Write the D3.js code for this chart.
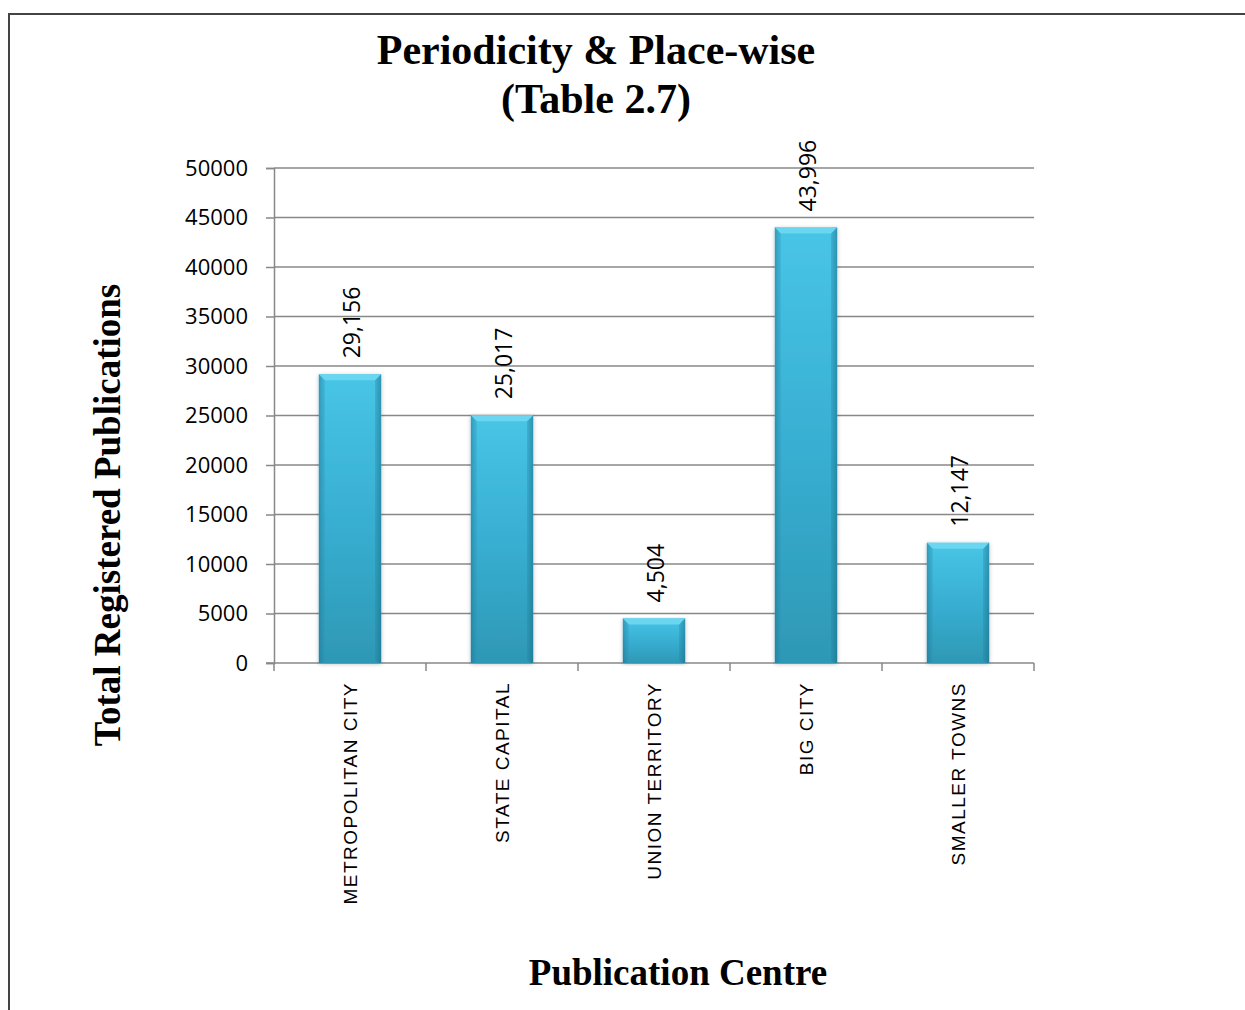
<!DOCTYPE html>
<html><head><meta charset="utf-8">
<script src="https://cdn.jsdelivr.net/npm/d3@7/dist/d3.min.js"></script>
<style>body{margin:0;background:#fff}svg{display:block}</style>
</head><body>
<svg id="c" width="1245" height="1010"></svg>
<script>
const categories = ["METROPOLITAN CITY","STATE CAPITAL","UNION TERRITORY","BIG CITY","SMALLER TOWNS"];
const values = [29156, 25017, 4504, 43996, 12147];
const yTicks = [0,5000,10000,15000,20000,25000,30000,35000,40000,45000,50000];
const titleLines = ["Periodicity & Place-wise","(Table 2.7)"];
const yTitle = "Total Registered Publications";
const xTitle = "Publication Centre";

const svg = d3.select("#c");
const L = 274, R = 1034, T = 168, B = 663;
const x = d3.scaleBand().domain(categories).range([L, R]).paddingInner(0.59).paddingOuter(0.295);
const y = d3.scaleLinear().domain([0, 50000]).range([B, T]);

const defs = svg.append("defs");
const g1 = defs.append("linearGradient").attr("id","bv").attr("x1",0).attr("y1",0).attr("x2",0).attr("y2",1);
g1.append("stop").attr("offset","0%").attr("stop-color","#48c5e6");
g1.append("stop").attr("offset","50%").attr("stop-color","#38afd2");
g1.append("stop").attr("offset","100%").attr("stop-color","#2e98b5");
const g2 = defs.append("linearGradient").attr("id","bh").attr("x1",0).attr("y1",0).attr("x2",1).attr("y2",0);
g2.append("stop").attr("offset","0%").attr("stop-color","#0c4c60").attr("stop-opacity",0.3);
g2.append("stop").attr("offset","8%").attr("stop-color","#0c4c60").attr("stop-opacity",0);
g2.append("stop").attr("offset","92%").attr("stop-color","#0c4c60").attr("stop-opacity",0);
g2.append("stop").attr("offset","100%").attr("stop-color","#0c4c60").attr("stop-opacity",0.3);
const f = defs.append("filter").attr("id","sh").attr("x","-20%").attr("y","-5%").attr("width","140%").attr("height","110%");
f.append("feGaussianBlur").attr("in","SourceAlpha").attr("stdDeviation",2);
f.append("feOffset").attr("dx",0).attr("dy",1).attr("result","b");
f.append("feComponentTransfer").append("feFuncA").attr("type","linear").attr("slope",0.25);
const fm = f.append("feMerge"); fm.append("feMergeNode"); fm.append("feMergeNode").attr("in","SourceGraphic");

// border
svg.append("path").attr("d","M9,1010 V14 H1245").attr("fill","none").attr("stroke","#444").attr("stroke-width",2);

// gridlines
svg.append("g").selectAll("line").data(yTicks.filter(d=>d>0)).join("line")
  .attr("x1",L).attr("x2",R).attr("y1",d=>y(d)).attr("y2",d=>y(d))
  .attr("stroke","#888").attr("stroke-width",1.5);

// y axis
const ya = svg.append("g").attr("transform",`translate(${L},0)`)
  .call(d3.axisLeft(y).tickValues(yTicks).tickFormat(d3.format("d")).tickSize(8).tickPadding(18));
ya.select(".domain").attr("stroke","#888").attr("stroke-width",1.5);
ya.selectAll(".tick line").attr("stroke","#888").attr("stroke-width",1.5);
ya.selectAll("text").attr("font-family","'Open Sans'").attr("font-size",22).attr("fill","#000");

// x axis
const step = x.step();
const bounds = d3.range(categories.length+1).map(i => L + i*step);
svg.append("line").attr("x1",L-8).attr("x2",R).attr("y1",B).attr("y2",B).attr("stroke","#888").attr("stroke-width",1.5);
svg.append("g").selectAll("line").data(bounds).join("line")
  .attr("x1",d=>d).attr("x2",d=>d).attr("y1",B).attr("y2",B+8).attr("stroke","#888").attr("stroke-width",1.5);

// bars
const bars = svg.append("g").selectAll("g").data(categories.map((c,i)=>({c, v: values[i]}))).join("g")
  .attr("filter","url(#sh)");
const bw = x.bandwidth();
bars.append("rect").attr("x",d=>x(d.c)).attr("y",d=>y(d.v)).attr("width",bw).attr("height",d=>B-y(d.v)).attr("fill","url(#bv)");
bars.append("rect").attr("x",d=>x(d.c)).attr("y",d=>y(d.v)).attr("width",bw).attr("height",d=>B-y(d.v)).attr("fill","url(#bh)");
const bev = 6;
bars.append("path").attr("d",d=>{const x0=x(d.c), x1=x0+bw, t=y(d.v);
  return `M${x0},${t} H${x1} L${x1-bev},${t+bev} H${x0+bev} Z`;}).attr("fill","#6ad6f0");
bars.append("path").attr("d",d=>{const x0=x(d.c), x1=x0+bw, t=y(d.v);
  return `M${x0},${t} L${x0+bev},${t+bev} V${B-2} L${x0},${B} Z`;}).attr("fill","#2a8fae").attr("opacity",0.3);
bars.append("path").attr("d",d=>{const x0=x(d.c), x1=x0+bw, t=y(d.v);
  return `M${x1},${t} L${x1-bev},${t+bev} V${B-2} L${x1},${B} Z`;}).attr("fill","#1f7f9c").attr("opacity",0.35);

// data labels
const fmt = d3.format(",");
svg.append("g").selectAll("text").data(categories.map((c,i)=>({c, v: values[i]}))).join("text")
  .attr("transform",d=>`translate(${x(d.c)+bw/2+2},${y(d.v)-16}) rotate(-90)`)
  .attr("dy","0.36em").attr("text-anchor","start")
  .attr("font-family","'Open Sans'").attr("font-size",23).attr("fill","#000")
  .text(d=>fmt(d.v));

// category labels
svg.append("g").selectAll("text").data(categories).join("text")
  .attr("transform",d=>`translate(${x(d)+bw/2},${682}) rotate(-90)`)
  .attr("dy","0.36em").attr("text-anchor","end")
  .attr("font-family","'Liberation Sans'").attr("font-size",19).attr("letter-spacing",1.5).attr("fill","#000")
  .text(d=>d);

// titles
const tt = svg.append("text").attr("text-anchor","middle").attr("font-family","'Liberation Serif'")
  .attr("font-weight","bold").attr("font-size",42).attr("fill","#000");
titleLines.forEach((t,i)=>tt.append("tspan").attr("x",596).attr("y",64+i*49).text(t));

svg.append("text").attr("transform","translate(120,515) rotate(-90)").attr("text-anchor","middle")
  .attr("font-family","'Liberation Serif'").attr("font-weight","bold").attr("font-size",37).attr("fill","#000").text(yTitle);
svg.append("text").attr("x",678).attr("y",985).attr("text-anchor","middle")
  .attr("font-family","'Liberation Serif'").attr("font-weight","bold").attr("font-size",37).attr("fill","#000").text(xTitle);
</script>
</body></html>
